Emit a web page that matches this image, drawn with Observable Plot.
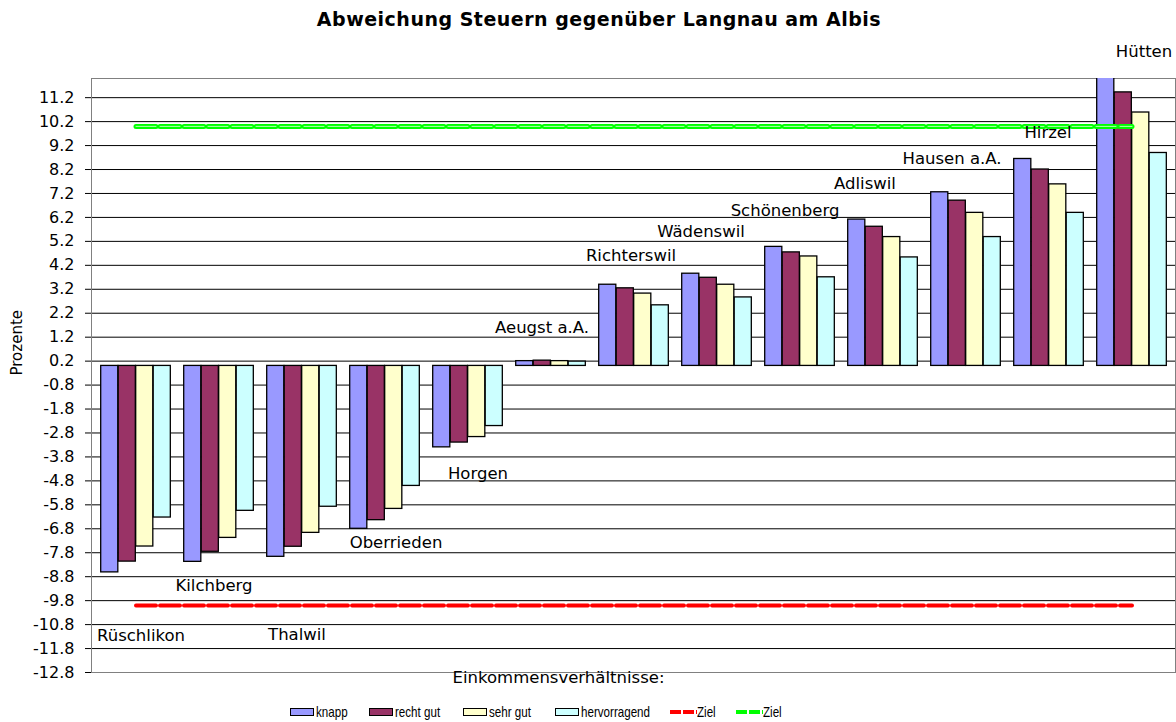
<!DOCTYPE html>
<html>
<head>
<meta charset="utf-8">
<script src="https://cdn.jsdelivr.net/npm/d3@7"></script>
<script src="https://cdn.jsdelivr.net/npm/@observablehq/plot@0.6"></script>
<style>
  body { margin: 0; background: #fff; }
  #wrap { position: relative; width: 1176px; height: 722px; overflow: hidden; font-family: "DejaVu Sans", Verdana, sans-serif; }
  #title { position: absolute; top: 7px; left: 11px; width: 1176px; text-align: center; font-weight: bold; font-size: 19px; letter-spacing: 0.5px; line-height: 24px; color: #000; }
  #chart { position: absolute; top: 40px; left: 0; }
  #legend { position: absolute; top: 703px; left: 0; width: 1176px; height: 18px;
            font-family: "Liberation Sans", Arial, sans-serif; font-size: 14.5px; color: #000; }
  .item { position: absolute; top: 0; display: flex; align-items: center; white-space: nowrap; line-height: 18px; height: 18px; }
  .sw { width: 22px; height: 6px; border: 1.5px solid #000; margin-right: 2px; }
  .lt { display: inline-block; transform: scaleX(0.8); transform-origin: left center; }
</style>
</head>
<body>
<div id="wrap">
  <div id="title">Abweichung Steuern gegenüber Langnau am Albis</div>
  <div id="chart"></div>
  <div id="legend"></div>
</div>
<script>
// ---- data ----
const towns = ["Rüschlikon", "Kilchberg", "Thalwil", "Oberrieden", "Horgen", "Aeugst a.A.", "Richterswil",
               "Wädenswil", "Schönenberg", "Adliswil", "Hausen a.A.", "Hirzel", "Hütten"];
const series = ["knapp", "recht gut", "sehr gut", "hervorragend"];
const knapp        = [-8.62, -8.18, -7.97, -6.80, -3.40, 0.20, 3.39, 3.85, 4.97, 6.11, 7.25, 8.64, 12.40];
const rechtGut     = [-8.17, -7.76, -7.55, -6.44, -3.20, 0.22, 3.24, 3.68, 4.74, 5.81, 6.90, 8.20, 11.42];
const sehrGut      = [-7.54, -7.18, -6.97, -5.97, -2.97, 0.20, 3.02, 3.39, 4.57, 5.38, 6.39, 7.58, 10.58];
const hervorragend = [-6.33, -6.05, -5.88, -5.01, -2.51, 0.18, 2.53, 2.86, 3.70, 4.53, 5.38, 6.39, 8.89];
const zielLow  = [-10, -10, -10, -10, -10, -10, -10, -10, -10, -10, -10, -10, -10];
const zielHigh = [10, 10, 10, 10, 10, 10, 10, 10, 10, 10, 10, 10, 10];
const yTicks = [11.2, 10.2, 9.2, 8.2, 7.2, 6.2, 5.2, 4.2, 3.2, 2.2, 1.2, 0.2, -0.8, -1.8, -2.8, -3.8,
                -4.8, -5.8, -6.8, -7.8, -8.8, -9.8, -10.8, -11.8, -12.8];
const seriesColors = ["#9999FF", "#993366", "#FFFFCC", "#CCFFFF"];
const yLabel = "Prozente";
const xLabel = "Einkommensverhältnisse:";
const zielLabel = "Ziel";

// annotation placement of the town labels (value units / pixel nudges)
const labelY  = [-11.26, -9.18, -11.22, -7.39, -4.51, 1.61, 4.61, 5.61, 6.49, 7.61, 8.65, 9.74, 13.11];
const labelDx = [5, -5, -5, 11, 10, -9, -3, -16, -15, -18, -14, -1, 12];

// ---- build ----
const valuesBySeries = [knapp, rechtGut, sehrGut, hervorragend];
const rows = [];
series.forEach((s, k) => towns.forEach((t, i) => rows.push({town: t, series: s, value: valuesBySeries[k][i]})));
const lowRows = towns.map((t, i) => ({town: t, ziel: zielLow[i]}));
const highRows = towns.map((t, i) => ({town: t, ziel: zielHigh[i]}));

const W = 1176, H = 655, mL = 91, mR = 1, mT = 38, mB = 23;
const bw = (W - mL - mR) / towns.length;
const pad = 6.7, barW = 17.5;
const dash = "20,4";

const chart = Plot.plot({
  width: W, height: H,
  marginTop: mT, marginBottom: mB, marginLeft: mL, marginRight: mR,
  x: {type: "band", domain: towns, padding: 0, axis: null},
  y: {domain: [-12.8, 12], axis: null},
  color: {domain: series, range: seriesColors},
  style: {fontFamily: "DejaVu Sans, Verdana, sans-serif", fontSize: "16px", color: "#000", background: "#fff", overflow: "visible"},
  marks: [
    Plot.ruleY(yTicks, {stroke: "#000", strokeWidth: 1}),
    Plot.frame({stroke: "#808080"}),
    Plot.axisY(yTicks, {tickSize: 6, tickPadding: 11, tickFormat: d => d.toFixed(1), fontSize: 16, label: null}),
    ...series.map((s, k) => Plot.barY(rows.filter(r => r.series === s), {
      x: "town", y: "value", fill: "series", stroke: "#000", strokeWidth: 1.3,
      insetLeft: pad + barW * k, insetRight: bw - pad - barW * (k + 1), clip: true
    })),
    Plot.lineY(lowRows, {x: "town", y: "ziel", stroke: "#FF0000", strokeWidth: 4, strokeDasharray: dash}),
    Plot.lineY(highRows, {x: "town", y: "ziel", stroke: "#00FF00", strokeWidth: 5, strokeDasharray: dash}),
    Plot.lineY(highRows, {x: "town", y: "ziel", stroke: "#fff", strokeWidth: 1, strokeOpacity: 0.7, strokeDasharray: dash}),
    ...towns.map((t, i) => Plot.text([t], {x: () => t, y: () => labelY[i], text: d => d, dx: labelDx[i], fontSize: 16.5, fill: "#000"})),
    Plot.text([yLabel], {frameAnchor: "left", rotate: -90, dx: -74, fontSize: 15, fill: "#000"}),
    Plot.text([xLabel], {frameAnchor: "bottom", dy: 10, dx: -75, fontSize: 16.5, fill: "#000"})
  ]
});
document.getElementById("chart").appendChild(chart);

// ---- legend ----
const legend = document.getElementById("legend");
const itemLeft = [290, 369, 463, 555, 670, 736];
const addItem = (k, swatch, label) => {
  const it = document.createElement("div");
  it.className = "item";
  it.style.left = itemLeft[k] + "px";
  it.appendChild(swatch);
  const tx = document.createElement("span");
  tx.className = "lt";
  tx.textContent = label;
  it.appendChild(tx);
  legend.appendChild(it);
};
series.forEach((s, k) => {
  const sw = document.createElement("span");
  sw.className = "sw";
  sw.style.background = seriesColors[k];
  addItem(k, sw, s);
});
["#FF0000", "#00FF00"].forEach((c, j) => {
  const ns = "http://www.w3.org/2000/svg";
  const svg = document.createElementNS(ns, "svg");
  svg.setAttribute("width", 27); svg.setAttribute("height", 8);
  const ln = document.createElementNS(ns, "line");
  ln.setAttribute("x1", 0); ln.setAttribute("x2", 27); ln.setAttribute("y1", 4); ln.setAttribute("y2", 4);
  ln.setAttribute("stroke", c); ln.setAttribute("stroke-width", 4); ln.setAttribute("stroke-dasharray", "11,2");
  svg.appendChild(ln);
  addItem(4 + j, svg, zielLabel);
});
</script>
</body>
</html>
